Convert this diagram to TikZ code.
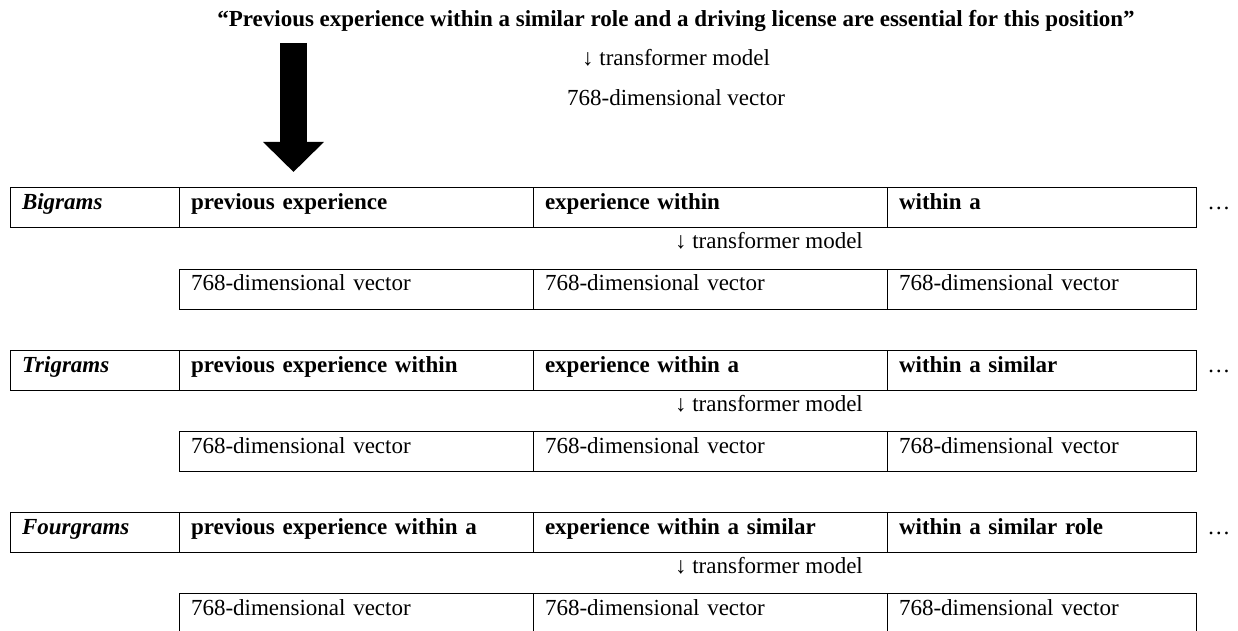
\documentclass[tikz,border=0pt]{standalone}
\usepackage{fontspec}
\setmainfont{Liberation Serif}
\usepackage{tikz}
\usetikzlibrary{positioning}
\usetikzlibrary{arrows.meta}
\AtBeginDocument{\fontsize{11.5pt}{14pt}\selectfont}

\begin{document}
\begin{tikzpicture}[node distance=20.5pt]

\tikzstyle{cell}=[rectangle, draw, line width=0.5pt, inner xsep=6pt,
  inner ysep=0pt, outer sep=0pt, text height=11pt, text depth=9pt, align=left]
\tikzstyle{rowname}=[cell, text width=72.5pt, font=\bfseries\itshape]
\tikzstyle{gram}=[cell, font=\bfseries]
\tikzstyle{vec}=[cell]
\tikzstyle{wide}=[text width=165pt]
\tikzstyle{narrow}=[text width=142.5pt]
\tikzstyle{more}=[inner sep=0pt, text height=11pt, text depth=9pt]

\tikzstyle{bigarr}=[line width=13.5pt, -{Triangle[length=15pt, width=29.5pt]}]

\useasboundingbox (0,0) rectangle (619pt,-315.5pt);

\node[anchor=base, font=\bfseries] (sentence) at (338pt,-13.5pt)
  {“Previous experience within a similar role and a driving license are essential for this position”};
\node[anchor=base] (tmodel) at (338pt,-33pt) {↓ transformer model};
\node[anchor=base] (vector) at (338pt,-53pt) {768-dimensional vector};

\coordinate (arrtop) at (146.75pt,-21.5pt);
\coordinate (arrtip) at (146.75pt,-86pt);
\draw[bigarr] (arrtop) -- (arrtip);

% bigrams
\node[rowname, anchor=north west] (bigrams) at (5pt,-94pt) {Bigrams};
\node[gram, wide, right=0pt of bigrams] (bi1) {previous experience};
\node[gram, wide, right=0pt of bi1] (bi2) {experience within};
\node[gram, narrow, right=0pt of bi2] (bi3) {within a};
\node[more, right=5.5pt of bi3] (bidots) {…};
\node[anchor=base west] (bitm) at ([xshift=67pt, yshift=-10.5pt]bi2.south west)
  {↓ transformer model};
\node[vec, wide, below=of bi1] (bivec1) {768-dimensional vector};
\node[vec, wide, right=0pt of bivec1] (bivec2) {768-dimensional vector};
\node[vec, narrow, right=0pt of bivec2] (bivec3) {768-dimensional vector};

% trigrams
\node[gram, wide, below=of bivec1] (tri1) {previous experience within};
\node[rowname, left=0pt of tri1] (trigrams) {Trigrams};
\node[gram, wide, right=0pt of tri1] (tri2) {experience within a};
\node[gram, narrow, right=0pt of tri2] (tri3) {within a similar};
\node[more, right=5.5pt of tri3] (tridots) {…};
\node[anchor=base west] (tritm) at ([xshift=67pt, yshift=-10.5pt]tri2.south west)
  {↓ transformer model};
\node[vec, wide, below=of tri1] (trivec1) {768-dimensional vector};
\node[vec, wide, right=0pt of trivec1] (trivec2) {768-dimensional vector};
\node[vec, narrow, right=0pt of trivec2] (trivec3) {768-dimensional vector};

% fourgrams
\node[gram, wide, below=of trivec1] (four1) {previous experience within a};
\node[rowname, left=0pt of four1] (fourgrams) {Fourgrams};
\node[gram, wide, right=0pt of four1] (four2) {experience within a similar};
\node[gram, narrow, right=0pt of four2] (four3) {within a similar role};
\node[more, right=5.5pt of four3] (fourdots) {…};
\node[anchor=base west] (fourtm) at ([xshift=67pt, yshift=-10.5pt]four2.south west)
  {↓ transformer model};
\node[vec, wide, below=of four1] (fourvec1) {768-dimensional vector};
\node[vec, wide, right=0pt of fourvec1] (fourvec2) {768-dimensional vector};
\node[vec, narrow, right=0pt of fourvec2] (fourvec3) {768-dimensional vector};

\end{tikzpicture}
\end{document}
